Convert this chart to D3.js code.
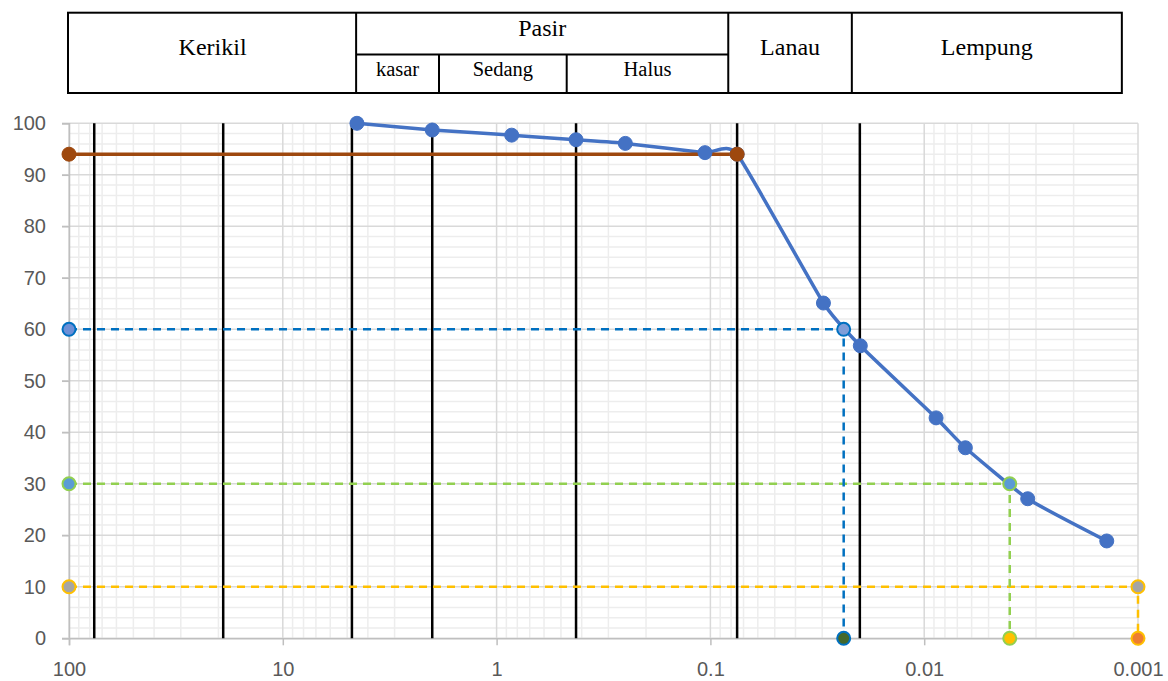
<!DOCTYPE html>
<html>
<head>
<meta charset="utf-8">
<script src="https://cdn.jsdelivr.net/npm/d3@7"></script>
<style>
html,body{margin:0;padding:0;background:#fff;}
svg{display:block;}
</style>
</head>
<body>
<svg id="chart" width="1168" height="681"></svg>
<script>
// ---------- data ----------
const sieveSize    = [4.5, 2, 0.85, 0.425, 0.25, 0.106, 0.075];
const sievePercent = [100, 98.7, 97.7, 96.8, 96.1, 94.3, 94.0];
const hydroSize    = [0.0296, 0.0199, 0.0088, 0.00642, 0.00328, 0.0014];
const hydroPercent = [65.1, 56.8, 42.8, 37.0, 27.1, 18.9];

const finesLineX = [100, 0.075];
const finesLineY = [94, 94];

const d60X = [100, 0.0238, 0.0238];
const d60Y = [60, 60, 0];
const d30X = [100, 0.00398, 0.00398];
const d30Y = [30, 30, 0];
const d10X = [100, 0.001, 0.001];
const d10Y = [10, 10, 0];

const boundarySizes = [76.2, 19, 4.75, 2, 0.425, 0.075, 0.02];

const xTickValues = [100, 10, 1, 0.1, 0.01, 0.001];
const xTickLabels = ["100", "10", "1", "0.1", "0.01", "0.001"];
const yTickValues = [0, 10, 20, 30, 40, 50, 60, 70, 80, 90, 100];

// soil classification table (column edges in mm)
const tableEdges   = [100, 4.54, 1.86, 0.47, 0.0825, 0.0218, 0.00119];
const mainLabels   = ["Kerikil", "Pasir", "Lanau", "Lempung"];
const mainSpans    = [[0, 1], [1, 4], [4, 5], [5, 6]];
const subLabels    = ["kasar", "Sedang", "Halus"];
const subSpans     = [[1, 2], [2, 3], [3, 4]];

// ---------- setup ----------
const svg = d3.select("#chart");
const x = d3.scaleLog().domain([100, 0.001]).range([69, 1138]);
const y = d3.scaleLinear().domain([0, 100]).range([638.3, 123.3]);
const [x0, x1] = x.range();
const [yb, yt] = y.range();

// ---------- gridlines ----------
const minorX = [];
[0.001, 0.01, 0.1, 1, 10].forEach(d => { for (let k = 2; k <= 9; k++) minorX.push(d * k); });
const minorY = d3.range(0, 101, 2).filter(v => v % 10 !== 0);

const grid = svg.append("g");
grid.selectAll(".mx").data(minorX).join("line")
  .attr("x1", d => x(d)).attr("x2", d => x(d)).attr("y1", yt).attr("y2", yb)
  .attr("stroke", "#ededed").attr("stroke-width", 1.5);
grid.selectAll(".my").data(minorY).join("line")
  .attr("x1", x0).attr("x2", x1).attr("y1", d => y(d)).attr("y2", d => y(d))
  .attr("stroke", "#ededed").attr("stroke-width", 1.5);
grid.selectAll(".Mx").data(xTickValues).join("line")
  .attr("x1", d => x(d)).attr("x2", d => x(d)).attr("y1", yt).attr("y2", yb)
  .attr("stroke", "#d9d9d9").attr("stroke-width", 1.5);
grid.selectAll(".My").data(yTickValues).join("line")
  .attr("x1", x0 - 7).attr("x2", x1).attr("y1", d => y(d)).attr("y2", d => y(d))
  .attr("stroke", "#d9d9d9").attr("stroke-width", 1.5);

// axes
const xAxis = d3.axisBottom(x).tickValues(xTickValues).tickFormat((d, i) => xTickLabels[i]).tickSize(7).tickPadding(17);
const gx = svg.append("g").attr("transform", `translate(0,${yb})`).call(xAxis);
gx.select(".domain").attr("stroke", "#bfbfbf").attr("stroke-width", 1.5);
gx.selectAll(".tick line").attr("stroke", "#bfbfbf").attr("stroke-width", 1.5);
gx.selectAll("text").attr("font-family", "Liberation Sans, Arial, sans-serif").attr("font-size", 20).attr("fill", "#595959");

const yAxis = d3.axisLeft(y).tickValues(yTickValues).tickSize(7).tickPadding(16);
const gy = svg.append("g").attr("transform", `translate(${x0},0)`).call(yAxis);
gy.select(".domain").attr("stroke", "#bfbfbf").attr("stroke-width", 1.5);
gy.selectAll(".tick line").attr("stroke", "#bfbfbf").attr("stroke-width", 1.5);
gy.selectAll("text").attr("font-family", "Liberation Sans, Arial, sans-serif").attr("font-size", 20).attr("fill", "#595959");

// ---------- boundary lines ----------
svg.append("g").selectAll("line").data(boundarySizes).join("line")
  .attr("x1", d => x(d)).attr("x2", d => x(d)).attr("y1", yt).attr("y2", yb)
  .attr("stroke", "#000").attr("stroke-width", 2.5);

// ---------- lines ----------
const pts = (xs, ys) => xs.map((v, i) => [v, ys[i]]);
const straight = d3.line().x(d => x(d[0])).y(d => y(d[1]));
const smooth = d3.line().x(d => x(d[0])).y(d => y(d[1])).curve(d3.curveCardinal.tension(0.5));

const dashSeries = [
  {p: pts(d10X, d10Y), color: "#FFC000", fills: ["#A5A5A5", "#A5A5A5", "#ED7D31"]},
  {p: pts(d30X, d30Y), color: "#92D050", fills: ["#5B9BD5", "#5B9BD5", "#FFC000"]},
  {p: pts(d60X, d60Y), color: "#0070C0", fills: ["#6d8fd6", "#7f9dd8", "#43682B"]},
];
dashSeries.forEach(s => {
  svg.append("path").attr("d", straight(s.p)).attr("fill", "none")
    .attr("stroke", s.color).attr("stroke-width", 2.5).attr("stroke-dasharray", "8,6");
});

const gradation = pts(sieveSize.concat(hydroSize), sievePercent.concat(hydroPercent));
svg.append("path").attr("d", smooth(gradation)).attr("fill", "none")
  .attr("stroke", "#4472C4").attr("stroke-width", 3.5).attr("stroke-linejoin", "round");

const fines = pts(finesLineX, finesLineY);
svg.append("path").attr("d", straight(fines)).attr("fill", "none")
  .attr("stroke", "#9E480E").attr("stroke-width", 3.5);

// ---------- markers ----------
svg.append("g").selectAll("circle").data(gradation).join("circle")
  .attr("cx", d => x(d[0])).attr("cy", d => y(d[1])).attr("r", 7)
  .attr("fill", "#4472C4").attr("stroke", "#4472C4").attr("stroke-width", 1);

svg.append("g").selectAll("circle").data(fines).join("circle")
  .attr("cx", d => x(d[0])).attr("cy", d => y(d[1])).attr("r", 7)
  .attr("fill", "#9E480E").attr("stroke", "#9E480E").attr("stroke-width", 1);

dashSeries.forEach(s => {
  svg.append("g").selectAll("circle").data(s.p).join("circle")
    .attr("cx", d => x(d[0])).attr("cy", d => y(d[1])).attr("r", 6.5)
    .attr("fill", (d, i) => s.fills[i]).attr("stroke", s.color).attr("stroke-width", 2);
});

// ---------- classification table ----------
const tTop = 12.7, tMid = 54.5, tBot = 93;
const tg = svg.append("g");
const tx = i => x(tableEdges[i]);
tg.append("rect").attr("x", tx(0) - 1).attr("y", tTop).attr("width", tx(6) - tx(0) + 1).attr("height", tBot - tTop)
  .attr("fill", "none").attr("stroke", "#000").attr("stroke-width", 2);
// main column separators
tg.selectAll(".sep").data([1, 4, 5]).join("line")
  .attr("x1", d => tx(d)).attr("x2", d => tx(d)).attr("y1", tTop).attr("y2", tBot)
  .attr("stroke", "#000").attr("stroke-width", 2);
// Pasir sub row
tg.append("line").attr("x1", tx(1)).attr("x2", tx(4)).attr("y1", tMid).attr("y2", tMid)
  .attr("stroke", "#000").attr("stroke-width", 2);
tg.selectAll(".sub").data([2, 3]).join("line")
  .attr("x1", d => tx(d)).attr("x2", d => tx(d)).attr("y1", tMid).attr("y2", tBot)
  .attr("stroke", "#000").attr("stroke-width", 2);

tg.selectAll(".ml").data(mainLabels).join("text")
  .attr("x", (d, i) => (tx(mainSpans[i][0]) + tx(mainSpans[i][1])) / 2)
  .attr("y", (d, i) => d === "Pasir" ? 36 : 55)
  .attr("text-anchor", "middle")
  .attr("font-family", "Liberation Serif, Times New Roman, serif").attr("font-size", 24).attr("fill", "#000")
  .text(d => d);
tg.selectAll(".sl").data(subLabels).join("text")
  .attr("x", (d, i) => (tx(subSpans[i][0]) + tx(subSpans[i][1])) / 2)
  .attr("y", 76)
  .attr("text-anchor", "middle")
  .attr("font-family", "Liberation Serif, Times New Roman, serif").attr("font-size", 20.5).attr("fill", "#000")
  .text(d => d);
</script>
</body>
</html>
